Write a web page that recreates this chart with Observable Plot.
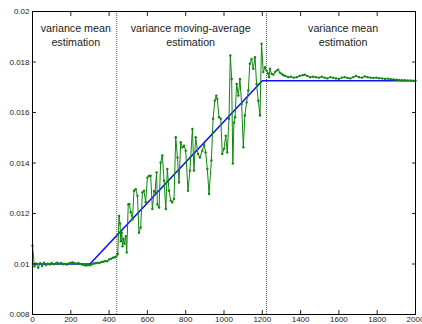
<!DOCTYPE html>
<html>
<head>
<meta charset="utf-8">
<script src="https://cdn.jsdelivr.net/npm/d3@7"></script>
<script src="https://cdn.jsdelivr.net/npm/@observablehq/plot@0.6"></script>
<style>
  html, body { margin: 0; padding: 0; background: #fff; }
  #chart { width: 422px; height: 324px; }
</style>
</head>
<body>
<div id="chart"></div>
<script>
// Estimated (green, noisy) series: sample index and variance estimate
const estX = [
  0,10,20,30,40,50,60,70,80,90,100,110,120,130,140,150,160,170,180,190,200,210,220,230,240,250,260,270,280,290,300,310,320,330,340,350,360,370,380,390,400,410,420,430,440,
  445,452,457,461,466,470,475,480,487,492,500,506,513,522,530,539,548,556,565,574,582,591,600,608,617,626,635,640,648,652,661,669,678,687,696,704,713,722,730,739,748,757,765,774,783,791,800,812,822,835,843,852,864,874,887,896,904,913,922,934,943,952,960,965,974,983,991,1000,1009,1017,1026,1033,1040,1046,1052,1058,1066,1075,1083,1092,1101,1109,1118,1127,1135,1144,1153,1162,1170,1179,1188,1196,1205,1214,1222,
  1230,1235,1240,1249,1258,1266,1275,1283,1292,1301,1310,1320,1335,1350,1365,1380,1395,1410,1422,1435,1450,1465,1480,1495,1510,1525,1540,1555,1570,1585,1600,1615,1630,1645,1660,1675,1690,1705,1720,1735,1750,1765,1780,1795,1810,1825,1840,1855,1870,1885,1900,1915,1930,1945,1960,1975,1990,2000
];
const estY = [
  0.01072,0.00990,0.01002,0.00985,0.01003,0.00992,0.01005,0.00996,0.01001,0.00998,0.01004,0.00999,0.01002,0.01005,0.01001,0.01004,0.00999,0.01000,0.00998,0.01002,0.01005,0.01006,0.01003,0.01001,0.01004,0.01000,0.00998,0.00996,0.00994,0.00996,0.00995,0.00999,0.01002,0.01003,0.01005,0.01004,0.01008,0.01009,0.01012,0.01011,0.01018,0.01021,0.01025,0.01027,0.01033,
  0.01040,0.01190,0.01160,0.01090,0.01125,0.01070,0.01100,0.01080,0.01110,0.01046,0.01236,0.01238,0.01205,0.01177,0.01290,0.01296,0.01270,0.01124,0.01145,0.01283,0.01290,0.01245,0.01342,0.01349,0.01350,0.01218,0.01289,0.01284,0.01363,0.01236,0.01224,0.01401,0.01430,0.01330,0.01218,0.01376,0.01290,0.01251,0.01244,0.01258,0.01502,0.01422,0.01323,0.01482,0.01462,0.01469,0.01449,0.01290,0.01370,0.01535,0.01370,0.01502,0.01436,0.01422,0.01449,0.01475,0.01442,0.01376,0.01277,0.01410,0.01575,0.01647,0.01667,0.01654,0.01581,0.01575,0.01436,0.01456,0.01508,0.01442,0.01575,0.01826,0.01733,0.01398,0.01560,0.01581,0.01713,0.01667,0.01733,0.01634,0.01462,0.01588,0.01640,0.01687,0.01793,0.01812,0.01773,0.01819,0.01713,0.01647,0.01588,0.01872,0.01760,0.01779,0.01766,
  0.01755,0.01740,0.01773,0.01753,0.01750,0.01760,0.01766,0.01770,0.01758,0.01753,0.01748,0.01745,0.01740,0.01742,0.01738,0.01740,0.01745,0.01748,0.01750,0.01745,0.01740,0.01742,0.01740,0.01738,0.01742,0.01738,0.01735,0.01740,0.01738,0.01735,0.01733,0.01738,0.01740,0.01737,0.01735,0.01740,0.01745,0.01740,0.01738,0.01743,0.01740,0.01738,0.01737,0.01738,0.01736,0.01735,0.01733,0.01734,0.01732,0.01731,0.01730,0.01729,0.01728,0.01728,0.01727,0.01727,0.01726,0.01726
];

// True variance (blue, piecewise linear)
const trueX = [0, 300, 1200, 2000];
const trueY = [0.0100, 0.0100, 0.01726, 0.01726];

// Change points (dotted vertical lines)
const changeX = [440, 1222];

// Region annotations
const labelX = [226, 826, 1622];
const labelText = ["variance mean\nestimation", "variance moving-average\nestimation", "variance mean\nestimation"];

// Tick values
const xTicks = [0,200,400,600,800,1000,1200,1400,1600,1800,2000];
const yTicks = [0.008,0.010,0.012,0.014,0.016,0.018,0.020];

const est = estX.map((x, i) => ({x, y: estY[i]}));
const truth = trueX.map((x, i) => ({x, y: trueY[i]}));
const labels = labelX.map((x, i) => ({x, text: labelText[i]}));

const yFmt = d => String(+d.toFixed(3));
const xFmt = d => String(d);
const font = "Liberation Sans, Arial, Helvetica, sans-serif";

const plot = Plot.plot({
  width: 422,
  height: 324,
  marginLeft: 32,
  marginRight: 7,
  marginTop: 11,
  marginBottom: 10,
  style: {fontFamily: font, fontSize: "8px", color: "#222", background: "#fff"},
  x: {domain: [0, 2000], label: null},
  y: {domain: [0.008, 0.02], label: null},
  marks: [
    Plot.ruleX(changeX, {stroke: "#555", strokeWidth: 1, strokeDasharray: "1,1"}),
    Plot.line(truth, {x: "x", y: "y", stroke: "#1010ff", strokeWidth: 1.6}),
    Plot.line(est, {x: "x", y: "y", stroke: "#0f870f", strokeWidth: 1}),
    Plot.dot(est, {x: "x", y: "y", r: 1.2, fill: "#0f870f", stroke: "none"}),
    Plot.text(labels, {x: "x", text: "text", frameAnchor: "top", lineAnchor: "top", dy: 11, lineHeight: 1.3, fontSize: 10.7, fill: "#222"}),
    Plot.axisX(xTicks, {anchor: "bottom", tickSize: 0, tickPadding: 2, fontSize: 8, tickFormat: xFmt, label: null}),
    Plot.axisX(xTicks, {anchor: "bottom", tickSize: -4, text: null, label: null}),
    Plot.axisX(xTicks, {anchor: "top", tickSize: -4, text: null, label: null}),
    Plot.axisY(yTicks, {anchor: "left", tickSize: 0, tickPadding: 3, tickFormat: yFmt, fontSize: 8, label: null}),
    Plot.axisY(yTicks, {anchor: "left", tickSize: -4, text: null, label: null}),
    Plot.axisY(yTicks, {anchor: "right", tickSize: -4, text: null, label: null}),
    Plot.frame({stroke: "#000", strokeWidth: 1})
  ]
});
document.getElementById("chart").appendChild(plot);
</script>
</body>
</html>
